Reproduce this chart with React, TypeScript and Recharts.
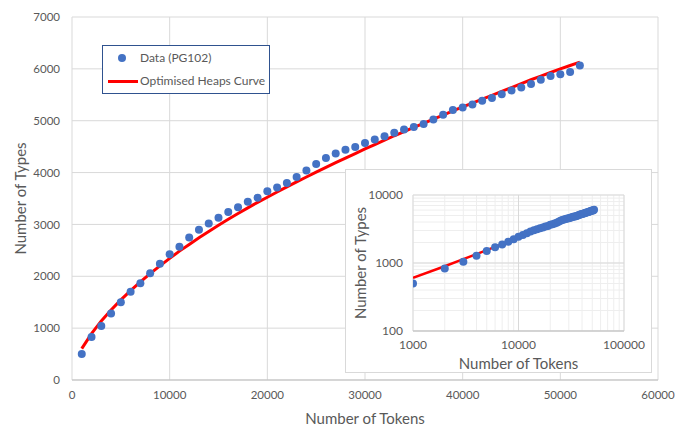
import { ComposedChart, Line, Scatter, XAxis, YAxis, CartesianGrid, Label, ReferenceLine } from 'recharts';

// Heaps' law fit vs observed vocabulary growth (PG102)
const TOKENS = [
  1000, 2000, 3000, 4000, 5000, 6000, 7000, 8000, 9000, 10000,
  11000, 12000, 13000, 14000, 15000, 16000, 17000, 18000, 19000, 20000,
  21000, 22000, 23000, 24000, 25000, 26000, 27000, 28000, 29000, 30000,
  31000, 32000, 33000, 34000, 35000, 36000, 37000, 38000, 39000, 40000,
  41000, 42000, 43000, 44000, 45000, 46000, 47000, 48000, 49000, 50000,
  51000, 52000,
];
const TYPES = [
  500, 830, 1040, 1280, 1500, 1700, 1865, 2060, 2240, 2425,
  2570, 2750, 2895, 3020, 3130, 3240, 3330, 3435, 3515, 3640,
  3710, 3800, 3915, 4040, 4165, 4280, 4370, 4440, 4495, 4570,
  4640, 4700, 4770, 4830, 4880, 4935, 5025, 5115, 5205, 5255,
  5315, 5385, 5440, 5510, 5585, 5640, 5710, 5790, 5860, 5895,
  5940, 6065,
];
const HEAPS = [
  605, 895, 1140, 1350, 1545, 1725, 1890, 2050, 2200, 2345,
  2485, 2615, 2745, 2865, 2985, 3100, 3210, 3320, 3425, 3525,
  3625, 3725, 3820, 3915, 4010, 4100, 4190, 4280, 4365, 4455,
  4540, 4625, 4710, 4790, 4870, 4950, 5030, 5110, 5190, 5265,
  5340, 5415, 5490, 5565, 5640, 5715, 5790, 5860, 5930, 6000,
  6065, 6130,
];

const X_TICKS = [0, 10000, 20000, 30000, 40000, 50000, 60000];
const Y_TICKS = [0, 1000, 2000, 3000, 4000, 5000, 6000, 7000];

const LOG_X_MAJOR = [1000, 10000, 100000];
const LOG_Y_MAJOR = [100, 1000, 10000];
const LOG_X_TICKS = [
  1000, 2000, 3000, 4000, 5000, 6000, 7000, 8000, 9000,
  10000, 20000, 30000, 40000, 50000, 60000, 70000, 80000, 90000, 100000,
];
const LOG_Y_TICKS = [
  100, 200, 300, 400, 500, 600, 700, 800, 900,
  1000, 2000, 3000, 4000, 5000, 6000, 7000, 8000, 9000, 10000,
];

const rows = TOKENS.map((t, i) => ({ tokens: t, types: TYPES[i], heaps: HEAPS[i] }));

const FONT = 'Lato, "Open Sans", sans-serif';
const TEXT = '#595959';
const GRID = '#d9d9d9';
const BLUE = '#4472c4';
const RED = '#ff0000';

const dot = (r: number) => (p: any) => <circle cx={p.cx} cy={p.cy} r={r} fill={BLUE} />;

const yTitle = (text: string, dx: number, size: number) => (props: any) => {
  const vb = props.viewBox;
  const x = vb.x + dx;
  const y = vb.y + vb.height / 2;
  return (
    <text x={x} y={y} transform={`rotate(-90, ${x}, ${y})`} textAnchor="middle" dominantBaseline="central"
      fill={TEXT} fontSize={size} fontFamily={FONT}>
      {text}
    </text>
  );
};

const xTitle = (text: string, dy: number, size: number) => (props: any) => {
  const vb = props.viewBox;
  return (
    <text x={vb.x + vb.width / 2} y={vb.y + dy} textAnchor="middle" dominantBaseline="central"
      fill={TEXT} fontSize={size} fontFamily={FONT}>
      {text}
    </text>
  );
};

const majorOnly = (majors: number[]) => (v: number) => (majors.includes(v) ? String(v) : '');

function Inset() {
  return (
    <div style={{ position: 'absolute', left: 345, top: 169, width: 305, height: 202, border: '1px solid #d9d9d9', background: '#fff' }}>
      <ComposedChart width={305} height={202} data={rows} margin={{ top: 25, right: 27, left: 0, bottom: 0 }}>
        <CartesianGrid stroke="#eeeeee" />
        {LOG_X_MAJOR.map((v) => <ReferenceLine key={'x' + v} x={v} stroke={GRID} />)}
        {LOG_Y_MAJOR.map((v) => <ReferenceLine key={'y' + v} y={v} stroke={GRID} />)}
        <XAxis type="number" dataKey="tokens" scale="log" domain={[1000, 100000]} ticks={LOG_X_TICKS}
          interval={0} tickFormatter={majorOnly(LOG_X_MAJOR)} tickLine={false} axisLine={{ stroke: '#bfbfbf' }}
          tick={{ fill: TEXT, fontSize: 12, fontFamily: FONT }} tickMargin={3} height={41} allowDataOverflow>
          <Label content={xTitle('Number of Tokens', 32, 15)} />
        </XAxis>
        <YAxis type="number" scale="log" domain={[100, 10000]} ticks={LOG_Y_TICKS} interval={0}
          tickFormatter={majorOnly(LOG_Y_MAJOR)} tickLine={false} axisLine={false}
          tick={{ fill: TEXT, fontSize: 12, fontFamily: FONT }} tickMargin={4} width={67} allowDataOverflow>
          <Label content={yTitle('Number of Types', 14, 15)} />
        </YAxis>
        <Line type="linear" dataKey="heaps" stroke={RED} strokeWidth={2.5} dot={false} isAnimationActive={false} />
        <Scatter dataKey="types" shape={dot(4)} isAnimationActive={false} />
      </ComposedChart>
    </div>
  );
}

function LegendBox() {
  return (
    <div style={{ position: 'absolute', left: 102, top: 45, width: 166, height: 47, border: '1px solid #2f528f',
      background: '#fff', fontFamily: FONT, fontSize: 12, color: TEXT }}>
      <div style={{ position: 'absolute', left: 15, top: 8, width: 8, height: 8, borderRadius: 4, background: BLUE }} />
      <div style={{ position: 'absolute', left: 37, top: 3, lineHeight: '18px' }}>Data (PG102)</div>
      <div style={{ position: 'absolute', left: 5, top: 34, width: 30, height: 3, background: RED }} />
      <div style={{ position: 'absolute', left: 37, top: 26, lineHeight: '18px' }}>Optimised Heaps Curve</div>
    </div>
  );
}

export default function App() {
  return (
    <div style={{ position: 'absolute', left: 0, top: 0, width: 675, height: 428, background: '#fff' }}>
      <ComposedChart width={675} height={428} data={rows} margin={{ top: 17, right: 17, left: 0, bottom: 0 }}>
        <CartesianGrid stroke={GRID} />
        <XAxis type="number" dataKey="tokens" domain={[0, 60000]} ticks={X_TICKS} interval={0} tickLine={false}
          axisLine={{ stroke: '#bfbfbf' }} tick={{ fill: TEXT, fontSize: 11.5, fontFamily: FONT }} tickMargin={5} height={48}>
          <Label content={xTitle('Number of Tokens', 38, 15)} />
        </XAxis>
        <YAxis type="number" domain={[0, 7000]} ticks={Y_TICKS} interval={0} tickLine={false} axisLine={false}
          tick={{ fill: TEXT, fontSize: 11.5, fontFamily: FONT }} tickMargin={6} width={72}>
          <Label content={yTitle('Number of Types', 20, 15)} />
        </YAxis>
        <Line type="linear" dataKey="heaps" stroke={RED} strokeWidth={3} dot={false} isAnimationActive={false} />
        <Scatter dataKey="types" shape={dot(4)} isAnimationActive={false} />
      </ComposedChart>
      <LegendBox />
      <Inset />
    </div>
  );
}
